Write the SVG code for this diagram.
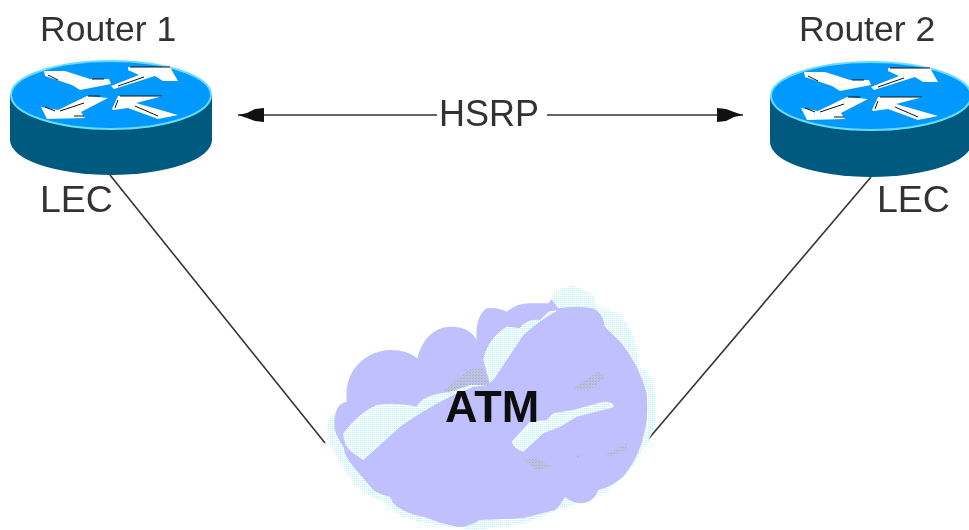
<svg xmlns="http://www.w3.org/2000/svg" width="969" height="530" viewBox="0 0 969 530">
<style>
.lbl{font-family:"Liberation Sans",Arial,sans-serif;font-size:35.5px;fill:#333;filter:url(#soft)}
.lec{font-size:37.5px}
.hsrp{font-size:36px}
.atm{font-family:"Liberation Sans",Arial,sans-serif;font-size:45px;font-weight:bold;fill:#111;filter:url(#soft)}
.wire{stroke:#333;stroke-width:1.6;fill:none}
.top{fill:#0099ff;stroke:#66ddff;stroke-width:2}
.side{fill:#005a7f}
.arr{fill:#fff}
.edge{stroke:#111;stroke-width:1;fill:none}
</style>
<defs>
<filter id="soft" x="-5%" y="-10%" width="110%" height="120%"><feGaussianBlur stdDeviation="0.45"/></filter>
<marker id="ah" viewBox="0 0 26 16" refX="26" refY="8" markerWidth="26" markerHeight="16" markerUnits="userSpaceOnUse" orient="auto-start-reverse"><path d="M0 1L9 2 17 5 26 8 17 10 9 14 0 15Z" fill="#111"/></marker>
<pattern id="dotC3" width="6" height="6" patternUnits="userSpaceOnUse"><rect width="6" height="6" fill="#fff"/><rect width="3" height="3" fill="#a8f5ff"/></pattern>
<pattern id="dotG" width="9" height="9" patternUnits="userSpaceOnUse"><rect width="4" height="3" fill="#9dba8c"/><rect x="4" y="5" width="3" height="3" fill="#9dba8c"/></pattern>
<g id="arrows">
<path class="arr" d="M44 71L65 71 90 79 109 79 111 84 80 90 72 85 45 76Z"/>
<path class="arr" d="M128 67H170L178 81 163 81 155 76 114 89 111 86 139 75 128 70Z"/>
<path class="arr" d="M41 107L58 110 87 96 108 98 81 112 85 118 47 119Z"/>
<path class="arr" d="M112 109L118 96H163L136 103 178 115 158 119 128 108 113 110Z"/>
<path class="edge" d="M130 67H170M92 79H104M48 75L58 80M118 86L144 77M120 96H162M88 96H100M74 116H84M45 107L55 111M60 111L84 103M115 108L118 100M135 106L158 116"/>
</g>
</defs>
<g id="connectors">
<line class="wire" x1="110" y1="175" x2="325" y2="443"/>
<line class="wire" x1="871" y1="177" x2="645" y2="443"/>
<line class="wire" x1="238" y1="115" x2="437" y2="115" marker-start="url(#ah)"/>
<line class="wire" x1="547" y1="115" x2="743" y2="115" marker-end="url(#ah)"/>
</g>
<g id="hsrp-label"><text class="lbl hsrp" x="439" y="126">HSRP</text></g>
<g id="router1">
<path class="side" d="M10 94V140A101 35 0 0 0 212 140V94Z"/>
<ellipse class="top" cx="111" cy="95" rx="100" ry="34"/>
<use href="#arrows"/>
<text class="lbl" x="40" y="41">Router 1</text>
<text class="lbl lec" x="40" y="212">LEC</text>
</g>
<g id="router2">
<path class="side" d="M770 95V142A101 35 0 0 0 972 142V95Z"/>
<ellipse class="top" cx="871" cy="96" rx="100" ry="34"/>
<use href="#arrows" x="760" y="1"/>
<text class="lbl" x="799" y="41">Router 2</text>
<text class="lbl lec" x="877" y="212">LEC</text>
</g>
<g id="cloud" transform="translate(310 270) scale(.3333)">
<path fill="url(#dotC3)" d="M65 430Q45 460 50 480Q60 530 80 560L130 640Q170 680 210 690L260 730Q310 755 370 765L500 780 640 760 880 670 960 600 1005 530Q1035 480 1040 440L1030 330Q1010 300 985 290Q985 230 965 190L930 130 860 110 850 75 790 45 740 60 715 100Z"/>
<path fill="#c0c0ff" d="M78 425Q85 400 110 395Q105 340 130 300Q170 245 235 240Q290 238 322 265Q345 175 420 170Q480 170 500 210Q495 140 530 115Q560 110 590 125Q620 100 660 100L715 100 725 88 745 115Q800 105 850 115Q880 130 885 170L935 220Q990 290 1010 370Q1015 440 1005 480Q990 560 940 620Q905 650 865 660Q850 700 810 700Q780 695 765 680Q750 710 735 720L640 745 510 750Q470 775 440 770Q390 760 340 740Q280 730 250 700L240 680Q210 675 190 660L130 590Q105 560 100 530Q80 500 75 480Q70 450 78 425Z"/>
<path fill="url(#dotC3)" d="M100 490Q150 425 200 405Q260 395 320 410Q335 375 420 365L480 345 525 345 540 340 520 270Q530 210 590 170L630 175Q650 145 690 150L715 125 745 120Q690 150 640 195L550 330 530 345 490 350 420 380Q340 420 270 470L160 570 130 550Q100 530 100 490Z"/>
<path fill="url(#dotC3)" d="M605 515L660 455 710 450 730 430 790 420 880 395Q915 395 910 412L800 440 750 470 700 490 640 545Q610 535 605 515Z"/>
<path fill="url(#dotG)" d="M400 360L490 290 520 295 540 345 480 345 415 370ZM780 360L865 305 885 320 840 360ZM640 570L680 565 725 590 680 600ZM885 555L950 520 950 540 900 560ZM800 555H810V563H800Z"/>
</g>
<text class="atm" x="445" y="422">ATM</text>
</svg>
